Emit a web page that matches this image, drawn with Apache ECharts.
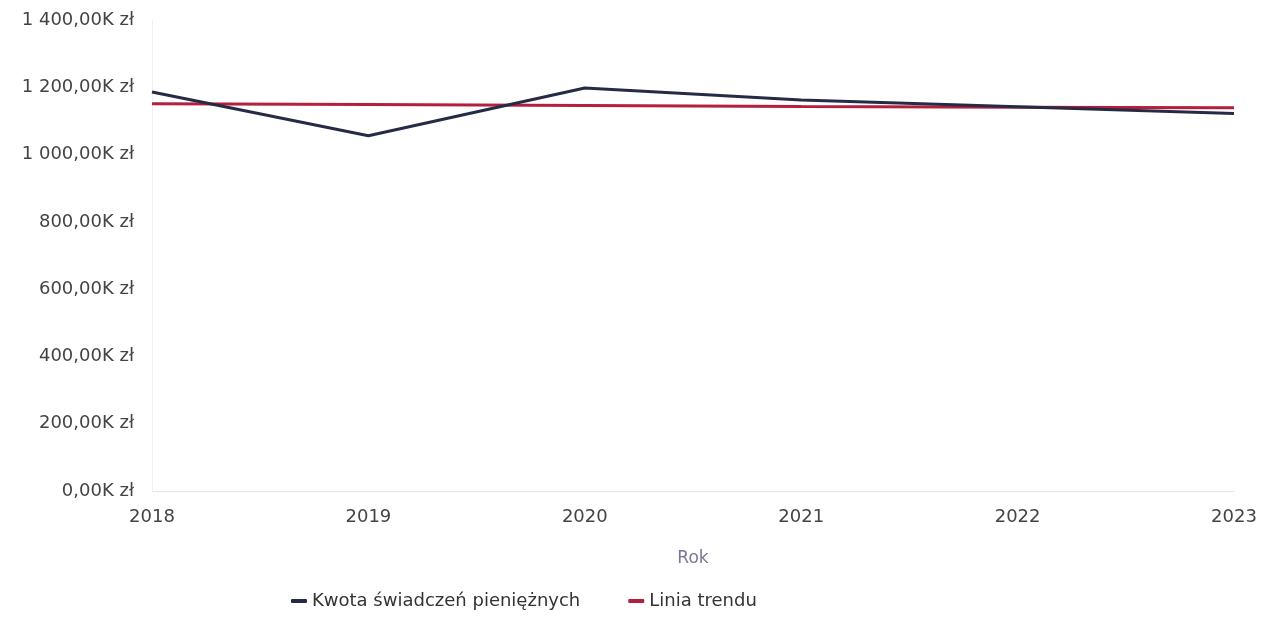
<!DOCTYPE html>
<html>
<head>
<meta charset="utf-8">
<script src="https://cdn.jsdelivr.net/npm/echarts@6/dist/echarts.min.js"></script>
<style>
  html, body { margin: 0; padding: 0; background: #fff; }
  #main { width: 1262px; height: 619px; }
</style>
</head>
<body>
<div id="main"></div>
<script>
var years = ['2018', '2019', '2020', '2021', '2022', '2023'];
// thousands of zł
var amounts = [1186, 1056, 1198, 1162, 1142, 1122];
var trend = [1151, 1149, 1146, 1143, 1141, 1139];
var seriesNames = ['Kwota świadczeń pieniężnych', 'Linia trendu'];

var chartDom = document.getElementById('main');
var myChart = echarts.init(chartDom);
var option;

function formatZl(v) {
  var parts = v.toFixed(2).split('.');
  var whole = parts[0].replace(/\B(?=(\d{3})+(?!\d))/g, ' ');
  return whole + ',' + parts[1] + 'K zł';
}

option = {
  textStyle: { fontFamily: '"DejaVu Sans", sans-serif' },
  animation: false,
  grid: {
    left: 152,
    right: 28,
    top: 20,
    bottom: 128
  },
  legend: {
    bottom: 4,
    left: 286,
    itemGap: 48,
    itemWidth: 16,
    itemHeight: 4,
    icon: 'roundRect',
    textStyle: { fontSize: 18, color: '#333' },
    data: seriesNames
  },
  xAxis: {
    type: 'category',
    data: years,
    boundaryGap: false,
    name: 'Rok',
    nameLocation: 'middle',
    nameGap: 59,
    nameTextStyle: { fontSize: 17, color: '#7a7896' },
    axisLine: { lineStyle: { color: '#e6e6e6', width: 1 } },
    axisTick: { show: false },
    axisLabel: { fontSize: 18, color: '#444', margin: 17 }
  },
  yAxis: {
    type: 'value',
    min: 0,
    max: 1400,
    interval: 200,
    axisLine: { show: true, lineStyle: { color: '#f0f0f0', width: 1 } },
    splitLine: { show: false },
    axisTick: { show: false },
    axisLabel: {
      fontSize: 18,
      color: '#444',
      margin: 18,
      formatter: formatZl
    }
  },
  series: [
    {
      name: seriesNames[0],
      type: 'line',
      data: amounts,
      symbol: 'none',
      color: '#262b45',
      lineStyle: { width: 3, color: '#262b45' },
      z: 3
    },
    {
      name: seriesNames[1],
      type: 'line',
      data: trend,
      symbol: 'none',
      color: '#b31f3c',
      lineStyle: { width: 3, color: '#b31f3c' },
      z: 2
    }
  ]
};

option && myChart.setOption(option);
</script>
</body>
</html>
